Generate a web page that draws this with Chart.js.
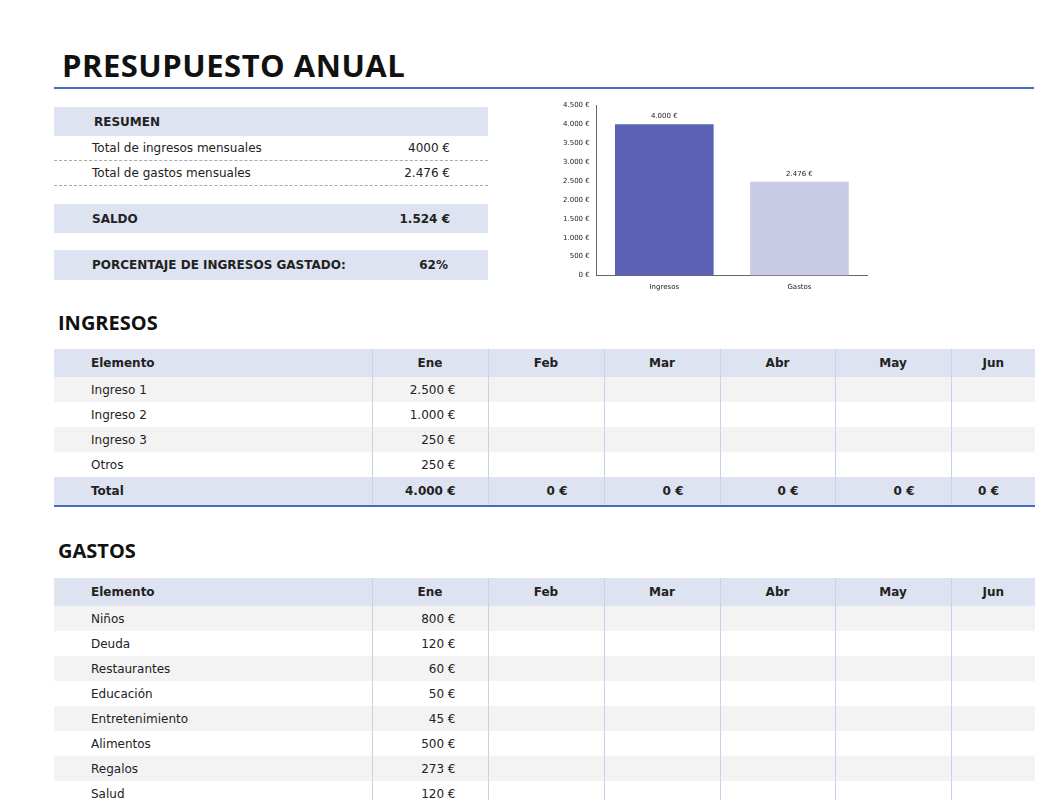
<!DOCTYPE html>
<html>
<head>
<meta charset="utf-8">
<script src="https://cdn.jsdelivr.net/npm/chart.js"></script>
<style>
  body { margin:0; width:1038px; height:800px; overflow:hidden; background:#fff; font-family:"DejaVu Sans", sans-serif; color:#222; position:relative; }
  .abs { position:absolute; }
  h1 { position:absolute; left:62px; top:44px; margin:0; font:bold 31px "Open Sans", sans-serif; letter-spacing:0.5px; color:#111; }
  .rule { position:absolute; left:54px; width:980px; height:2px; background:#4a6cc0; }
  .sumrow { position:absolute; left:54px; width:434px; font-size:12px; display:flex; align-items:center; box-sizing:border-box; }
  .sumrow .l { position:absolute; left:38px; }
  .sumrow .r { position:absolute; right:38px; }
  .shade { background:#dde3f0; font-weight:bold; }
  .dash { border-bottom:1px dashed #aaa; }
  h2 { position:absolute; left:58px; margin:0; font:bold 20px "Open Sans", sans-serif; color:#111; }
  table { position:absolute; left:54px; border-collapse:collapse; font-size:12px; table-layout:fixed; }
  td, th { padding:0; height:25px; border-left:1px solid #c7d3ec; }
  td:first-child, th:first-child { border-left:none; padding-left:37px; text-align:left; }
  th { background:#dde3f0; font-weight:bold; height:28px; text-align:center; font-size:12px; }
  td.n { text-align:right; padding-right:32px; }
  tr.alt td { background:#f3f3f3; }
  tr.tot td { background:#dde3f0; font-weight:bold; height:28px; border-bottom:2px solid #4a6cc0; }
  tr.tot td.z { text-align:right; padding-right:36px; }
</style>
</head>
<body>
<h1>PRESUPUESTO ANUAL</h1>
<div class="rule" style="top:87px"></div>

<div class="sumrow shade" style="top:107px;height:29px"><span class="l" style="left:40px">RESUMEN</span></div>
<div class="sumrow dash" style="top:136px;height:25px"><span class="l">Total de ingresos mensuales</span><span class="r" id="sIng"></span></div>
<div class="sumrow dash" style="top:161px;height:25px"><span class="l">Total de gastos mensuales</span><span class="r" id="sGas"></span></div>
<div class="sumrow shade" style="top:204px;height:29px"><span class="l">SALDO</span><span class="r" id="sSal"></span></div>
<div class="sumrow shade" style="top:250px;height:30px"><span class="l">PORCENTAJE DE INGRESOS GASTADO:</span><span class="r" style="right:40px" id="sPct"></span></div>

<div class="abs" style="left:560px;top:98px;width:312px;height:196px"><canvas id="chart"></canvas></div>

<h2 style="top:309px">INGRESOS</h2>
<table id="tIng" style="top:349px"></table>
<h2 style="top:537px">GASTOS</h2>
<table id="tGas" style="top:578px"></table>

<script>
// datos
const meses = ['Ene','Feb','Mar','Abr','May','Jun']
const ingresosNombres = ['Ingreso 1','Ingreso 2','Ingreso 3','Otros']
const ingresosEne = [2500, 1000, 250, 250]
const gastosNombres = ['Niños','Deuda','Restaurantes','Educación','Entretenimiento','Alimentos','Regalos','Salud']
const gastosEne = [800, 120, 60, 50, 45, 500, 273, 120]
const chartLabels = ['Ingresos','Gastos']
const chartValues = [4000, 2476]
const yTicks = [0,500,1000,1500,2000,2500,3000,3500,4000,4500]

const eur = v => v.toLocaleString('de-DE') + ' €'

document.getElementById('sIng').textContent = '4000 €'
document.getElementById('sGas').textContent = '2.476 €'
document.getElementById('sSal').textContent = eur(chartValues[0] - chartValues[1])
document.getElementById('sPct').textContent = Math.round(chartValues[1] / chartValues[0] * 100) + '%'

const widths = [318,116,116,116,115,116,84]
function buildTable(id, names, values, withTotal) {
  let h = '<colgroup>' + widths.map(w => '<col style="width:' + w + 'px">').join('') + '</colgroup>'
  h += '<tr><th>Elemento</th>' + meses.map(m => '<th>' + m + '</th>').join('') + '</tr>'
  names.forEach((n, i) => {
    h += '<tr class="' + (i % 2 === 0 ? 'alt' : '') + '"><td>' + n + '</td><td class="n">' + eur(values[i]) + '</td>' + '<td></td>'.repeat(5) + '</tr>'
  })
  if (withTotal) {
    const tot = values.reduce((a, b) => a + b, 0)
    h += '<tr class="tot"><td>Total</td><td class="n">' + eur(tot) + '</td>' + '<td class="z">0 €</td>'.repeat(5) + '</tr>'
  }
  const t = document.getElementById(id)
  t.style.width = widths.reduce((a, b) => a + b, 0) + 'px'
  t.innerHTML = h
}
buildTable('tIng', ingresosNombres, ingresosEne, true)
buildTable('tGas', gastosNombres, gastosEne, false)

// chart
const barLabels = {
  id: 'barLabels',
  afterDatasetsDraw(chart) {
    const ctx = chart.ctx
    const meta = chart.getDatasetMeta(0)
    ctx.save()
    ctx.font = '7px "DejaVu Sans"'
    ctx.fillStyle = '#222'
    ctx.textAlign = 'center'
    meta.data.forEach((bar, i) => {
      ctx.fillText(eur(chartValues[i]), bar.x, bar.y - 6)
    })
    ctx.restore()
  }
}

new Chart(document.getElementById('chart'), {
  type: 'bar',
  data: {
    labels: chartLabels,
    datasets: [{
      data: chartValues,
      backgroundColor: ['#5b62b6', '#c8cae6'],
      categoryPercentage: 0.73,
      barPercentage: 1
    }]
  },
  options: {
    responsive: true,
    maintainAspectRatio: false,
    animation: false,
    layout: { padding: { top: 4, right: 5 } },
    plugins: { legend: { display: false }, tooltip: { enabled: false } },
    scales: {
      y: {
        min: 0, max: 4500,
        afterBuildTicks: s => { s.ticks = yTicks.map(v => ({ value: v })) },
        grid: { display: false, drawTicks: true, tickLength: 4 },
        border: { color: '#666' },
        ticks: { font: { size: 7, family: 'DejaVu Sans' }, color: '#222', callback: v => eur(v), padding: 3 }
      },
      x: {
        grid: { display: false, tickLength: 4 },
        border: { color: '#666' },
        ticks: { font: { size: 7, family: 'DejaVu Sans' }, color: '#222' }
      }
    }
  },
  plugins: [barLabels]
})
</script>
</body>
</html>
